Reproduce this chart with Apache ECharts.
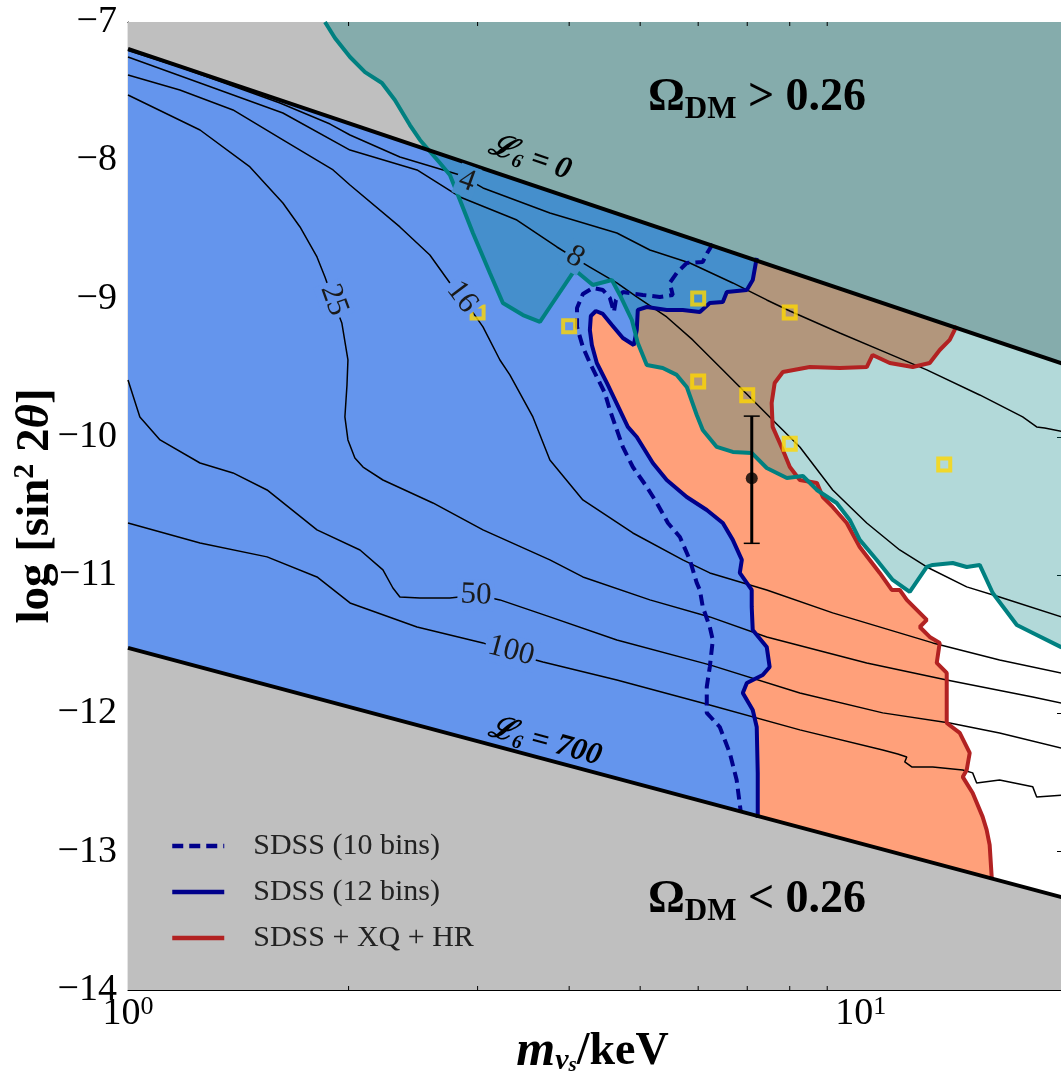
<!DOCTYPE html>
<html><head><meta charset="utf-8">
<script src="https://cdn.jsdelivr.net/npm/echarts@6/dist/echarts.min.js"></script>
<style>html,body{margin:0;padding:0;background:#fff}#c{width:1061px;height:1081px}</style>
</head><body><div id="c"></div>
<script>
// ---------------- data (m in keV, log10 sin^2 2theta) ----------------
const X_MIN = 1, X_MAX = 19, Y_MIN = -14, Y_MAX = -7;
const minorTicks = [2, 3, 4, 5, 6, 7, 8, 9];
const legendNames = ['SDSS (10 bins)', 'SDSS (12 bins)', 'SDSS + XQ + HR'];

// L6 = 0 and L6 = 700 boundaries
const upperLine = [[1, -7.195], [19.5, -9.496]];
const lowerLine = [[1, -11.526], [19.5, -13.351]];

// Omega_DM = 0.26 boundary
const tealLine = [[1.857,-7.0],[1.916,-7.116],[2.009,-7.253],[2.106,-7.362],[2.221,-7.441],[2.313,-7.564],[2.425,-7.745],[2.503,-7.853],[2.665,-8.02],[2.75,-8.106],[2.838,-8.287],[2.956,-8.526],[3.118,-8.815],[3.248,-9.032],[3.459,-9.119],[3.649,-9.169],[3.765,-9.061],[4.072,-8.793],[4.309,-8.902],[4.575,-8.866],[4.691,-8.974],[4.871,-9.155],[4.963,-9.321],[5.105,-9.48],[5.367,-9.502],[5.609,-9.552],[5.788,-9.639],[5.973,-9.842],[6.087,-9.95],[6.361,-10.073],[6.689,-10.109],[7.099,-10.116],[7.442,-10.225],[7.928,-10.297],[8.337,-10.283],[8.711,-10.384],[9.271,-10.478],[9.661,-10.601],[9.969,-10.745],[10.516,-10.89],[11.058,-11.035],[11.665,-11.121],[12.306,-10.941],[12.54,-10.926],[13.351,-10.912],[13.951,-10.941],[14.533,-10.926],[15.139,-11.129],[16.33,-11.36],[17.17,-11.418],[18.74,-11.519],[19.5,-11.55]];

// SDSS + XQ + HR
const redLine = [[13.52,-9.198],[13.226,-9.299],[12.817,-9.372],[12.42,-9.466],[11.775,-9.495],[10.954,-9.466],[10.38,-9.408],[10.19,-9.495],[9.362,-9.502],[8.52,-9.495],[7.829,-9.531],[7.63,-9.61],[7.558,-9.755],[7.582,-9.928],[7.829,-10.095],[8.003,-10.218],[8.258,-10.312],[8.711,-10.333],[8.877,-10.435],[9.156,-10.507],[9.57,-10.623],[9.969,-10.796],[10.615,-10.984],[11.023,-11.107],[11.303,-11.107],[11.556,-11.179],[12.306,-11.324],[12.039,-11.375],[12.42,-11.447],[12.817,-11.49],[12.697,-11.635],[13.102,-11.707],[13.102,-12.069],[13.648,-12.141],[14.083,-12.286],[13.951,-12.409],[13.777,-12.459],[14.215,-12.575],[14.668,-12.748],[14.853,-12.842],[14.994,-12.951],[15.09,-13.182],[15.09,-13.2]];

// SDSS (12 bins)
const navySolid = [[7.212,-8.706],[7.122,-8.866],[6.991,-8.938],[6.565,-8.952],[6.483,-9.025],[6.223,-9.032],[6.031,-9.097],[5.716,-9.082],[5.435,-9.082],[5.105,-9.061],[4.963,-9.082],[4.947,-9.227],[4.901,-9.336],[4.735,-9.285],[4.575,-9.191],[4.447,-9.111],[4.35,-9.09],[4.282,-9.126],[4.269,-9.227],[4.296,-9.336],[4.363,-9.466],[4.503,-9.61],[4.691,-9.806],[4.81,-9.928],[4.947,-10.001],[5.203,-10.189],[5.435,-10.312],[5.788,-10.435],[6.164,-10.529],[6.483,-10.623],[6.689,-10.745],[6.882,-10.89],[6.838,-10.984],[7.099,-11.107],[7.099,-11.23],[7.122,-11.396],[7.442,-11.519],[7.511,-11.664],[7.349,-11.722],[6.991,-11.78],[6.903,-11.852],[7.122,-11.975],[7.212,-12.098],[7.235,-12.43],[7.235,-12.756]];

// SDSS (10 bins)
const navyDashed = [[6.282,-8.605],[6.184,-8.663],[6.087,-8.735],[5.788,-8.743],[5.609,-8.815],[5.487,-8.887],[5.539,-8.974],[5.319,-8.988],[5.041,-8.974],[4.735,-8.952],[4.633,-9.01],[4.604,-9.097],[4.546,-8.996],[4.447,-8.938],[4.309,-8.923],[4.176,-8.967],[4.1,-9.068],[4.1,-9.205],[4.176,-9.35],[4.269,-9.466],[4.405,-9.61],[4.475,-9.683],[4.546,-9.806],[4.735,-10.073],[4.886,-10.218],[5.105,-10.362],[5.269,-10.478],[5.456,-10.623],[5.665,-10.724],[5.845,-10.89],[5.973,-11.056],[6.031,-11.107],[6.087,-11.23],[6.223,-11.375],[6.282,-11.469],[6.223,-11.664],[6.164,-11.808],[6.164,-11.996],[6.421,-12.098],[6.626,-12.286],[6.771,-12.481],[6.859,-12.712]];

// L6 contours
const contour4 = [[1,-7.206],[1.177,-7.325],[1.378,-7.456],[1.612,-7.586],[1.887,-7.738],[2.009,-7.817],[2.35,-7.976],[2.838,-8.106],[3.051,-8.2],[3.765,-8.381],[4.647,-8.526],[5.155,-8.649],[5.845,-8.743],[6.689,-8.887],[7.442,-9.01],[8.003,-9.09],[9.362,-9.249],[10.851,-9.393],[12.306,-9.516],[14.533,-9.697],[16.634,-9.856],[17.382,-9.928],[17.824,-9.936],[18.98,-9.965]];
const contour8 = [[1,-7.253],[1.254,-7.441],[1.627,-7.658],[2.009,-7.926],[2.48,-8.07],[2.838,-8.265],[3.394,-8.432],[3.849,-8.627],[4.046,-8.699],[4.269,-8.772],[4.647,-8.887],[4.947,-8.988],[5.435,-9.133],[5.898,-9.299],[6.483,-9.516],[7.055,-9.712],[7.582,-9.878],[8.258,-10.073],[9.156,-10.384],[10.19,-10.623],[11.303,-10.818],[12.306,-10.941],[13.951,-11.085],[15.47,-11.158],[18.98,-11.31]];
const contour16 = [[1,-7.383],[1.177,-7.492],[1.391,-7.636],[1.627,-7.853],[1.905,-8.07],[2.009,-8.179],[2.35,-8.482],[2.582,-8.685],[2.75,-8.887],[2.856,-8.988],[3.051,-9.205],[3.218,-9.444],[3.32,-9.552],[3.569,-9.856],[3.765,-10.167],[4.176,-10.456],[4.886,-10.695],[5.716,-10.89],[6.223,-10.984],[7.442,-11.107],[9.156,-11.273],[12.54,-11.49],[15.47,-11.613],[18.98,-11.714]];
const contour25 = [[1,-7.528],[1.254,-7.781],[1.467,-8.048],[1.627,-8.309],[1.717,-8.482],[1.811,-8.699],[1.857,-8.844],[1.905,-9.01],[1.958,-9.176],[1.996,-9.444],[1.99,-9.625],[1.977,-9.856],[1.996,-10.022],[2.04,-10.153],[2.093,-10.218],[2.228,-10.312],[2.607,-10.478],[3.051,-10.673],[3.765,-10.89],[4.176,-11.013],[5.155,-11.179],[6.223,-11.302],[7.442,-11.447],[10.19,-11.635],[13.102,-11.758],[17.17,-11.881],[18.98,-11.931]];
const contour50 = [[1,-9.589],[1.038,-9.856],[1.106,-10.022],[1.254,-10.189],[1.391,-10.261],[1.548,-10.384],[1.811,-10.673],[2.073,-10.818],[2.228,-10.962],[2.299,-11.093],[2.35,-11.158],[2.503,-11.165],[2.75,-11.165],[3.003,-11.143],[3.218,-11.179],[3.765,-11.302],[4.647,-11.469],[6.223,-11.649],[8.258,-11.852],[10.715,-11.996],[13.226,-12.069],[15.47,-12.141],[18.98,-12.257]];
const contour100 = [[1,-10.623],[1.254,-10.767],[1.548,-10.868],[1.811,-11.013],[2.009,-11.201],[2.48,-11.375],[3.051,-11.49],[3.32,-11.563],[3.684,-11.628],[4.647,-11.758],[6.223,-11.939],[8.258,-12.119],[10.715,-12.264],[11.233,-12.293],[11.556,-12.315],[11.483,-12.351],[11.739,-12.387],[12.54,-12.387],[13.777,-12.409],[14.215,-12.43],[14.395,-12.503],[15.47,-12.481],[17.17,-12.531],[17.382,-12.604],[18.98,-12.589]];

// yellow squares
const squaresX = [3, 4, 6, 8, 6, 7, 8, 13];
const squaresY = [-9.1, -9.2, -9.0, -9.1, -9.6, -9.7, -10.05, -10.2];

// 3.55 keV line point with error bar
const errX = [7.1];
const errY = [-10.3];
const errLo = [-10.77];
const errHi = [-9.85];

// ---------------- build ----------------
const FONT = 'Liberation Serif, DejaVu Serif, serif';
const TOPY = Y_MAX + 0.2, BOTY = Y_MIN - 0.2;
const last = a => a[a.length - 1];

const salmonPoly = [[X_MIN, TOPY], [redLine[0][0], TOPY], ...redLine, [last(redLine)[0], BOTY], [X_MIN, BOTY]];
const bluePoly = [[X_MIN, TOPY], [navySolid[0][0], TOPY], ...navySolid, [last(navySolid)[0], BOTY], [X_MIN, BOTY]];
const topMask = [upperLine[0], upperLine[1], [upperLine[1][0], TOPY], [upperLine[0][0], TOPY]];
const botMask = [lowerLine[0], lowerLine[1], [lowerLine[1][0], BOTY], [lowerLine[0][0], BOTY]];
const tealPoly = [...tealLine, [last(tealLine)[0], TOPY], [tealLine[0][0], TOPY]];

function poly(pts, fill, z) {
  return {
    type: 'custom', silent: true, clip: true, z: z, data: [[X_MIN, Y_MIN]],
    renderItem: (p, api) => ({ type: 'polygon', shape: { points: pts.map(q => api.coord(q)) }, style: { fill: fill } })
  };
}
function line(name, data, color, width, z, type) {
  return {
    name: name, type: 'line', data: data, symbol: 'none', showSymbol: false, silent: true, z: z, clip: true,
    lineStyle: { color: color, width: width, type: type || 'solid' }, itemStyle: { color: color }
  };
}

const series = [
  poly(salmonPoly, '#FFA07A', 1),
  poly(bluePoly, '#6495ED', 1),
  poly(topMask, '#bfbfbf', 1),
  poly(botMask, '#bfbfbf', 1),
  poly(tealPoly, 'rgba(0,128,128,0.3)', 1),
  line(null, contour4, '#000', 1.5, 3),
  line(null, contour8, '#000', 1.5, 3),
  line(null, contour16, '#000', 1.5, 3),
  line(null, contour25, '#000', 1.5, 3),
  line(null, contour50, '#000', 1.5, 3),
  line(null, contour100, '#000', 1.5, 3),
  line(legendNames[0], navyDashed, '#00008B', 4, 5, [11, 6]),
  line(legendNames[1], navySolid, '#00008B', 4, 5),
  line(legendNames[2], redLine, '#B22222', 4, 5),
  line(null, tealLine, '#008080', 4, 6),
  line(null, upperLine, '#000', 4, 7),
  line(null, lowerLine, '#000', 4, 7),
  {
    type: 'scatter', silent: true, z: 8, symbol: 'rect', symbolSize: 12,
    data: squaresX.map((x, i) => [x, squaresY[i]]),
    itemStyle: { color: 'rgba(0,0,0,0)', borderColor: '#FFD700', borderWidth: 4 }
  },
  {
    type: 'custom', silent: true, z: 9, clip: false,
    data: errX.map((x, i) => [x, errLo[i], errHi[i]]),
    encode: { x: 0, y: [1, 2] },
    renderItem: (p, api) => {
      const a = api.coord([api.value(0), api.value(1)]);
      const b = api.coord([api.value(0), api.value(2)]);
      return { type: 'group', children: [
        { type: 'line', shape: { x1: a[0], y1: a[1], x2: b[0], y2: b[1] }, style: { stroke: '#000', lineWidth: 3 } },
        { type: 'line', shape: { x1: a[0] - 8, y1: a[1], x2: a[0] + 8, y2: a[1] }, style: { stroke: '#000', lineWidth: 1.5 } },
        { type: 'line', shape: { x1: b[0] - 8, y1: b[1], x2: b[0] + 8, y2: b[1] }, style: { stroke: '#000', lineWidth: 1.5 } }
      ] };
    }
  },
  {
    type: 'scatter', silent: true, z: 10, symbolSize: 12,
    data: errX.map((x, i) => [x, errY[i]]), itemStyle: { color: '#000' }
  },
  {
    type: 'custom', silent: true, z: 11, clip: false,
    data: minorTicks.map(v => [v, Y_MIN]),
    renderItem: (p, api) => {
      const v = api.value(0);
      const b = api.coord([v, Y_MIN]);
      const t = api.coord([v, Y_MAX]);
      return { type: 'group', children: [
        { type: 'line', shape: { x1: b[0], y1: b[1], x2: b[0], y2: b[1] - 4 }, style: { stroke: '#000', lineWidth: 1 } },
        { type: 'line', shape: { x1: t[0], y1: t[1], x2: t[0], y2: t[1] + 4 }, style: { stroke: '#000', lineWidth: 1 } }
      ] };
    }
  }
];

const deg = d => -d * Math.PI / 180;
function ctext(txt, x, y, rot, bg) {
  return { type: 'text', x: x, y: y, rotation: deg(rot), z: 20, silent: true,
    style: { text: txt, fill: '#1a1a1a', font: '31px ' + FONT, align: 'center', verticalAlign: 'middle',
      backgroundColor: bg, padding: [0, 3, 0, 3] } };
}
const omegaRich = {
  a: { fontSize: 46, fontWeight: 'bold', fontFamily: FONT, lineHeight: 54, fill: '#000' },
  b: { fontSize: 31, fontWeight: 'bold', fontFamily: FONT, lineHeight: 30, verticalAlign: 'bottom', fill: '#000' }
};
const Lrich = {
  a: { fontSize: 31, fontWeight: 'bold', fontStyle: 'italic', fontFamily: FONT, lineHeight: 36, fill: '#000' },
  b: { fontSize: 20, fontWeight: 'bold', fontStyle: 'italic', fontFamily: FONT, lineHeight: 18, verticalAlign: 'bottom', fill: '#000' }
};

const option = {
  animation: false,
  backgroundColor: '#fff',
  grid: { left: 128, top: 22, width: 937, height: 968, show: true, backgroundColor: '#fff', borderWidth: 0, outerBoundsMode: 'none' },
  xAxis: [
    { type: 'log', logBase: 10, min: X_MIN, max: X_MAX, position: 'bottom',
      axisLine: { show: true, onZero: false, lineStyle: { color: '#000', width: 1.2 } },
      axisTick: { show: true, inside: true, length: 8, lineStyle: { color: '#000', width: 1 } },
      splitLine: { show: false }, minorTick: { show: false },
      axisLabel: { margin: 4, showMaxLabel: false, color: '#000',
        formatter: v => { const l = Math.log10(v); return Math.abs(l - Math.round(l)) < 1e-6 ? '{b|10}{s|' + Math.round(l) + '}' : ''; },
        rich: { b: { fontSize: 38, fontFamily: FONT, lineHeight: 40, color: '#000' },
                s: { fontSize: 26, fontFamily: FONT, lineHeight: 22, verticalAlign: 'top', color: '#000' } } },
      name: '{m|m}{n|ν}{s|s}{k|/keV}', nameLocation: 'middle', nameGap: 38, nameMoveOverlap: false,
      nameTextStyle: { padding: [0, 8, 0, 0], rich: {
        m: { fontSize: 50, fontWeight: 'bold', fontStyle: 'italic', fontFamily: FONT, lineHeight: 48, color: '#000' },
        n: { fontSize: 30, fontWeight: 'bold', fontStyle: 'italic', fontFamily: FONT, lineHeight: 24, verticalAlign: 'bottom', color: '#000' },
        s: { fontSize: 21, fontWeight: 'bold', fontStyle: 'italic', fontFamily: FONT, lineHeight: 12, verticalAlign: 'bottom', color: '#000' },
        k: { fontSize: 46, fontWeight: 'bold', fontFamily: FONT, lineHeight: 48, color: '#000' } } }
    },
    { type: 'log', logBase: 10, min: X_MIN, max: X_MAX, position: 'top',
      axisLine: { show: true, onZero: false, lineStyle: { color: '#000', width: 1.2 } },
      axisTick: { show: true, inside: true, length: 8, lineStyle: { color: '#000', width: 1 } },
      axisLabel: { show: false }, splitLine: { show: false } }
  ],
  yAxis: [
    { type: 'value', min: Y_MIN, max: Y_MAX, interval: 1, position: 'left',
      axisLine: { show: true, onZero: false, lineStyle: { color: '#000', width: 1.2 } },
      axisTick: { show: true, inside: true, length: 8, lineStyle: { color: '#000', width: 1 } },
      splitLine: { show: false },
      axisLabel: { margin: 11, color: '#000', fontSize: 38, fontFamily: FONT,
        formatter: v => (v < 0 ? '\u2212' : '') + Math.abs(v) },
      name: '{a|log [sin}{p|2}{a| 2}{t|θ}{a|]}', nameLocation: 'middle', nameRotate: 90, nameGap: 66, nameMoveOverlap: false,
      nameTextStyle: { padding: [0, 0, 0, 0], rich: {
        a: { fontSize: 47, fontWeight: 'bold', fontFamily: FONT, lineHeight: 52, color: '#000' },
        p: { fontSize: 30, fontWeight: 'bold', fontFamily: FONT, lineHeight: 28, verticalAlign: 'top', color: '#000' },
        t: { fontSize: 47, fontWeight: 'bold', fontStyle: 'italic', fontFamily: FONT, lineHeight: 52, color: '#000' } } }
    },
    { type: 'value', min: Y_MIN, max: Y_MAX, interval: 1, position: 'right',
      axisLine: { show: true, onZero: false, lineStyle: { color: '#000', width: 1.2 } },
      axisTick: { show: true, inside: true, length: 8, lineStyle: { color: '#000', width: 1 } },
      axisLabel: { show: false }, splitLine: { show: false } }
  ],
  legend: {
    show: true, orient: 'vertical', left: 165, top: 826, itemWidth: 52, itemHeight: 32, itemGap: 16,
    selectedMode: false, data: legendNames,
    itemStyle: { opacity: 0 },
    lineStyle: { width: 4.5 },
    textStyle: { fontFamily: FONT, fontSize: 30, color: '#222', padding: [0, 0, 0, 24] }
  },
  graphic: [
    { type: 'text', x: 757, y: 98, z: 20, silent: true,
      style: { text: '{a|Ω}{b|DM}{a| > 0.26}', rich: omegaRich, align: 'center', verticalAlign: 'middle' } },
    { type: 'text', x: 757, y: 900, z: 20, silent: true,
      style: { text: '{a|Ω}{b|DM}{a| < 0.26}', rich: omegaRich, align: 'center', verticalAlign: 'middle' } },
    { type: 'text', x: 530, y: 158, rotation: deg(18.6), z: 20, silent: true,
      style: { text: '{a|ℒ}{b|6}{a| = 0}', rich: Lrich, align: 'center', verticalAlign: 'middle' } },
    { type: 'text', x: 545, y: 742, rotation: deg(14.9), z: 20, silent: true,
      style: { text: '{a|ℒ}{b|6}{a| = 700}', rich: Lrich, align: 'center', verticalAlign: 'middle' } },
    ctext('4', 467, 181, 20, '#468FCC'),
    ctext('8', 575, 257, 31, '#468FCC'),
    ctext('16', 462, 297, 53, '#6495ED'),
    ctext('25', 334, 300, 70, '#6495ED'),
    ctext('50', 476, 595, 2, '#6495ED'),
    ctext('100', 511, 651, 15, '#6495ED')
  ],
  series: series
};
const chart = echarts.init(document.getElementById('c'), null, { renderer: 'canvas' });
chart.setOption(option);
</script></body></html>
